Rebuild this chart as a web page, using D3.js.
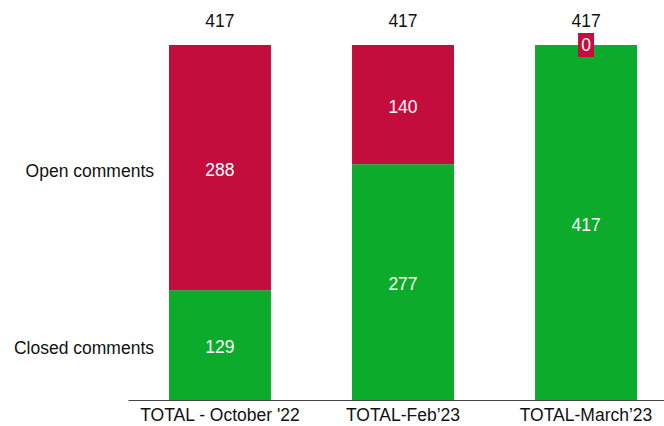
<!DOCTYPE html>
<html>
<head>
<meta charset="utf-8">
<script src="https://cdn.jsdelivr.net/npm/d3@7"></script>
<style>
  body { margin: 0; background: #fff; }
  text { font-family: "Liberation Sans", Arial, sans-serif; }
</style>
</head>
<body>
<svg id="chart" width="664" height="426"></svg>
<script>
"use strict";

// chart data
var categories = ["TOTAL - October '22", "TOTAL-Feb\u201923", "TOTAL-March\u201923"];
var closed_values = [129, 277, 417];
var open_values = [288, 140, 0];
var series_names = ["Closed comments", "Open comments"];
var colors = ["#0cab2b", "#c30d3c"];

var width = 664,
  height = 426,
  font_size = 17.5,
  margin = { top: 45, bottom: 26, left: 128 };

var svg = d3.select("#chart");

var rows = categories.map(function (c, i) {
  return { cat: c, closed: closed_values[i], open: open_values[i] };
});

var stack = d3.stack().keys(["closed", "open"]);
var layers = stack(rows);

// band scale runs a little past the right edge, as in the original
var x = d3.scaleBand()
  .domain(categories)
  .range([margin.left, 678])
  .paddingInner(0.443)
  .paddingOuter(0.224);

var y = d3.scaleLinear()
  .domain([0, d3.max(rows, function (d) { return d.closed + d.open; })])
  .range([height - margin.bottom, margin.top]);

// bars
var layer = svg.selectAll(".layer")
  .data(layers)
  .enter()
  .append("g")
  .attr("class", "layer")
  .attr("fill", function (d, i) { return colors[i]; });

layer.selectAll("rect")
  .data(function (d) { return d; })
  .enter()
  .append("rect")
  .attr("x", function (d) { return x(d.data.cat); })
  .attr("width", x.bandwidth())
  .attr("y", function (d) { return y(d[1]); })
  .attr("height", function (d) { return y(d[0]) - y(d[1]); });

// segment labels
layers.forEach(function (l, li) {
  l.forEach(function (d) {
    var v = d[1] - d[0];
    var cx = x(d.data.cat) + x.bandwidth() / 2;
    var cy = (y(d[0]) + y(d[1])) / 2;
    if (v === 0) {
      // zero-height segment: label in a small coloured box
      svg.append("rect")
        .attr("x", cx - 8)
        .attr("y", cy - 12)
        .attr("width", 16)
        .attr("height", 24)
        .attr("fill", colors[li]);
      cy -= 2;
    }
    svg.append("text")
      .attr("x", cx)
      .attr("y", cy + 2)
      .attr("dy", "0.35em")
      .attr("text-anchor", "middle")
      .attr("fill", "#fff")
      .attr("font-size", font_size)
      .text(v);
  });
});

// totals above bars
svg.selectAll(".total")
  .data(rows)
  .enter()
  .append("text")
  .attr("class", "total")
  .attr("x", function (d) { return x(d.cat) + x.bandwidth() / 2; })
  .attr("y", function (d) { return y(d.closed + d.open) - 24; })
  .attr("dy", "0.35em")
  .attr("text-anchor", "middle")
  .attr("fill", "#111")
  .attr("font-size", font_size)
  .text(function (d) { return d.closed + d.open; });

// x axis
var xAxis = d3.axisBottom(x).tickSize(0).tickPadding(9);
var gx = svg.append("g")
  .attr("transform", "translate(0," + y(0) + ")")
  .call(xAxis);
gx.select(".domain").attr("stroke", "#444").attr("stroke-width", 1.2);
gx.selectAll("text")
  .attr("font-size", font_size)
  .attr("fill", "#111")
  .style("font-family", "'Liberation Sans', Arial, sans-serif");

// series labels next to the first bar
var first = layers.map(function (l) { return l[0]; });
svg.selectAll(".series-label")
  .data(first)
  .enter()
  .append("text")
  .attr("class", "series-label")
  .attr("x", 154)
  .attr("y", function (d) { return (y(d[0]) + y(d[1])) / 2 + 3; })
  .attr("dy", "0.35em")
  .attr("text-anchor", "end")
  .attr("fill", "#111")
  .attr("font-size", font_size)
  .text(function (d, i) { return series_names[i]; });
</script>
</body>
</html>
